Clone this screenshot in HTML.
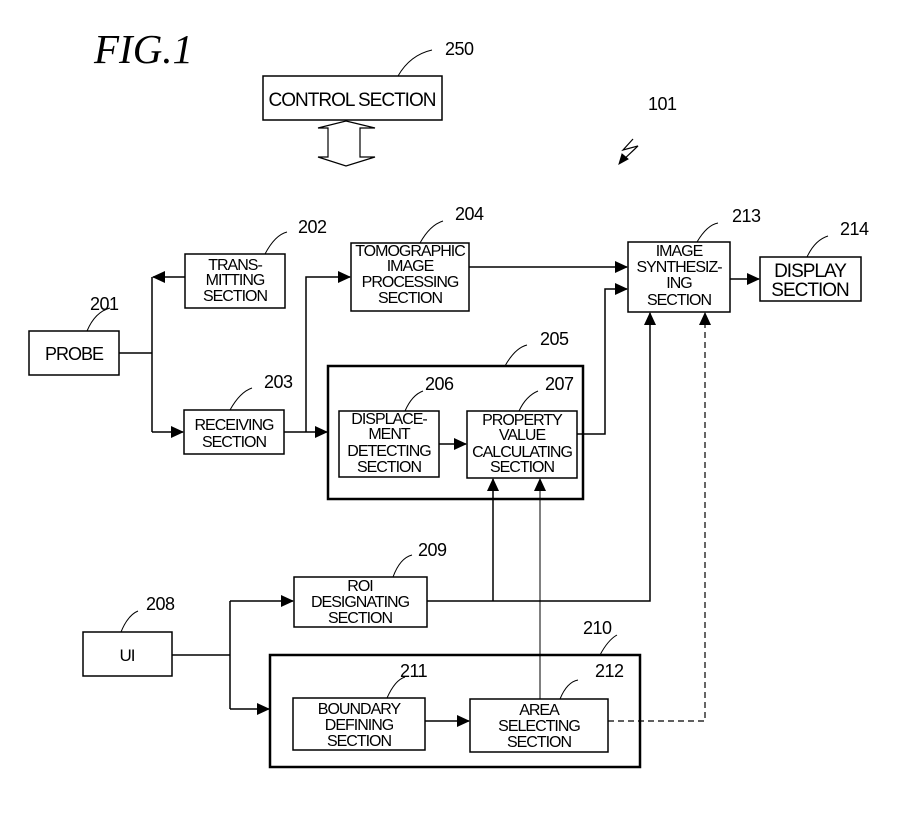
<!DOCTYPE html>
<html><head><meta charset="utf-8"><style>
html,body{margin:0;padding:0;background:#fff;}
svg{display:block;}
text{font-family:"Liberation Sans",sans-serif;fill:#000;}
.b{font-size:16px;text-anchor:middle;letter-spacing:-1px;}
.n{font-size:18px;letter-spacing:-0.5px;}
</style></head><body>
<svg width="921" height="827" viewBox="0 0 921 827" xmlns="http://www.w3.org/2000/svg">
<defs>
<marker id="a" markerWidth="13" markerHeight="12" refX="12" refY="6" orient="auto" markerUnits="userSpaceOnUse"><path d="M0,0 L13,6 L0,12 z" fill="#000"/></marker>
</defs>
<g fill="none" stroke="#000">
<text x="94" y="63" style="font-family:'Liberation Serif',serif;font-style:italic;font-size:41px;" stroke="none">FIG.1</text>
<rect x="263" y="76" width="179" height="44" stroke-width="1.5"/>
<path d="M346,121 L375,128 L360,128 L360,157 L375,157 L346,166 L318,157 L328,157 L328,128 L318,128 Z" stroke-width="1.2"/>
<rect x="29" y="331" width="90" height="44" stroke-width="1.5"/>
<rect x="185" y="254" width="100" height="54" stroke-width="1.5"/>
<rect x="184" y="410" width="100" height="44" stroke-width="1.5"/>
<rect x="351" y="243" width="118" height="68" stroke-width="1.5"/>
<rect x="328" y="366" width="255" height="133" stroke-width="2.5"/>
<rect x="339" y="411" width="100" height="66" stroke-width="1.5"/>
<rect x="467" y="411" width="110" height="67" stroke-width="1.5"/>
<rect x="628" y="242" width="102" height="70" stroke-width="1.5"/>
<rect x="760" y="257" width="101" height="44" stroke-width="1.5"/>
<rect x="83" y="632" width="89" height="44" stroke-width="1.5"/>
<rect x="294" y="577" width="133" height="50" stroke-width="1.5"/>
<rect x="270" y="655" width="370" height="112" stroke-width="2.5"/>
<rect x="293" y="698" width="132" height="52" stroke-width="1.5"/>
<rect x="470" y="699" width="138" height="53" stroke-width="1.5"/>
<g stroke-width="1.5">
<path d="M119,353 H152 M152,277 V432"/>
<path d="M185,277 H153" marker-end="url(#a)"/>
<path d="M152,432 H183" marker-end="url(#a)"/>
<path d="M284,432 H327" marker-end="url(#a)"/>
<path d="M306,432 V277 H350" marker-end="url(#a)"/>
<path d="M439,444 H466" marker-end="url(#a)"/>
<path d="M469,267 H627" marker-end="url(#a)"/>
<path d="M577,434 H605 V289 H627" marker-end="url(#a)"/>
<path d="M730,279 H759" marker-end="url(#a)"/>
<path d="M172,655 H230 M230,601 V709"/>
<path d="M230,601 H293" marker-end="url(#a)"/>
<path d="M230,709 H269" marker-end="url(#a)"/>
<path d="M427,601 H650 V313" marker-end="url(#a)"/>
<path d="M493,601 V479" marker-end="url(#a)"/>
<path d="M425,721 H469" marker-end="url(#a)"/>
</g>
<path d="M540,699 V479" stroke-width="1" marker-end="url(#a)"/>
<path d="M608,721 H705 V313" stroke-width="1.2" stroke-dasharray="6,4" marker-end="url(#a)"/>
<g stroke-width="1">
<path d="M398,76 Q410,55 432,50"/>
<path d="M87,331 Q95,312 110,308"/>
<path d="M265,254 Q275,235 287,232"/>
<path d="M230,410 Q240,392 252,388"/>
<path d="M420,243 Q430,225 443,221"/>
<path d="M505,366 Q515,348 527,345"/>
<path d="M405,411 Q412,395 423,391"/>
<path d="M519,411 Q526,396 538,391"/>
<path d="M697,242 Q707,225 718,223"/>
<path d="M807,257 Q815,240 828,236"/>
<path d="M121,632 Q128,615 138,611"/>
<path d="M393,577 Q400,558 412,555"/>
<path d="M600,655 Q608,640 617,635"/>
<path d="M387,698 Q395,680 405,677"/>
<path d="M560,699 Q567,682 578,680"/>
<path d="M633,139 L623,150 L638,146 L621,162" stroke-width="1.2"/>
<path d="M619,164 l3,-10 l6,5 z" fill="#000"/>
</g>
</g>
<text class="b" x="352" y="106" style="font-size:19px">CONTROL SECTION</text>
<text class="b" x="74" y="360" style="font-size:18px">PROBE</text>
<text class="b" x="235" y="270">TRANS-</text><text class="b" x="235" y="285">MITTING</text><text class="b" x="235" y="301">SECTION</text>
<text class="b" x="234" y="430">RECEIVING</text><text class="b" x="234" y="447">SECTION</text>
<text class="b" x="410" y="256">TOMOGRAPHIC</text><text class="b" x="410" y="271">IMAGE</text><text class="b" x="410" y="287">PROCESSING</text><text class="b" x="410" y="303">SECTION</text>
<text class="b" x="389" y="424">DISPLACE-</text><text class="b" x="389" y="439">MENT</text><text class="b" x="389" y="456">DETECTING</text><text class="b" x="389" y="472">SECTION</text>
<text class="b" x="522" y="425">PROPERTY</text><text class="b" x="522" y="440">VALUE</text><text class="b" x="522" y="457">CALCULATING</text><text class="b" x="522" y="472">SECTION</text>
<text class="b" x="679" y="256">IMAGE</text><text class="b" x="679" y="272">SYNTHESIZ-</text><text class="b" x="679" y="288">ING</text><text class="b" x="679" y="305">SECTION</text>
<text class="b" x="810" y="277" style="font-size:19px">DISPLAY</text><text class="b" x="810" y="296" style="font-size:19px">SECTION</text>
<text class="b" x="127" y="661" style="font-size:17px">UI</text>
<text class="b" x="360" y="591">ROI</text><text class="b" x="360" y="607">DESIGNATING</text><text class="b" x="360" y="623">SECTION</text>
<text class="b" x="359" y="714">BOUNDARY</text><text class="b" x="359" y="730">DEFINING</text><text class="b" x="359" y="746">SECTION</text>
<text class="b" x="539" y="715">AREA</text><text class="b" x="539" y="731">SELECTING</text><text class="b" x="539" y="747">SECTION</text>
<text class="n" x="445" y="55">250</text>
<text class="n" x="648" y="110">101</text>
<text class="n" x="90" y="310">201</text>
<text class="n" x="298" y="233">202</text>
<text class="n" x="264" y="388">203</text>
<text class="n" x="455" y="220">204</text>
<text class="n" x="540" y="345">205</text>
<text class="n" x="425" y="390">206</text>
<text class="n" x="545" y="390">207</text>
<text class="n" x="732" y="222">213</text>
<text class="n" x="840" y="235">214</text>
<text class="n" x="146" y="610">208</text>
<text class="n" x="418" y="556">209</text>
<text class="n" x="583" y="634">210</text>
<text class="n" x="400" y="677">211</text>
<text class="n" x="595" y="677">212</text>
</svg>
</body></html>
